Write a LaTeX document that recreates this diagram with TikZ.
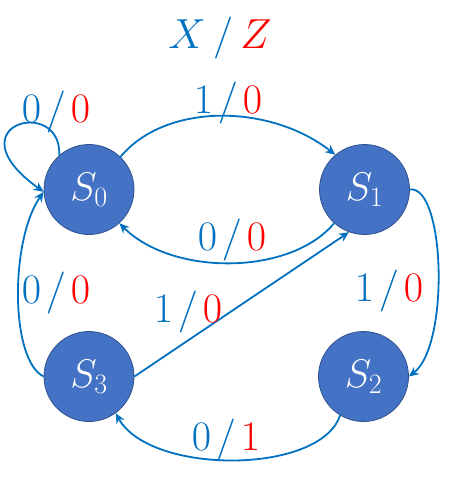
\RequirePackage{fix-cm}
\documentclass[tikz,border=0pt]{standalone}
\usetikzlibrary{arrows.meta}
\definecolor{edgeblue}{HTML}{0070C0}
\definecolor{nodefill}{HTML}{4472C4}
\definecolor{nodeline}{HTML}{2F528F}
\definecolor{outred}{HTML}{FF0000}
\newcommand{\io}[2]{$#1\mkern2mu/\mkern2mu\textcolor{outred}{#2}$}
\tikzset{
  state/.style={circle, fill=nodefill, draw=nodeline, line width=0.8pt, minimum size=90pt, inner sep=0pt, text=white, font=\fontsize{40}{46}\selectfont},
  trans/.style={draw=edgeblue, line width=1.8pt, -{Stealth[length=10pt,width=9pt]}},
  lbl/.style={anchor=base, inner sep=0pt, text=edgeblue, font=\fontsize{42}{50}\selectfont}
}
\begin{document}
\begin{tikzpicture}[x=1pt,y=-1pt]
\useasboundingbox (0,0) rectangle (459,483);
\node[state] (s0) at (89,189.5) {$S_0$};
\node[state] (s1) at (364.5,189.5) {$S_1$};
\node[state] (s3) at (89,376.5) {$S_3$};
\node[state] (s2) at (363.5,376.5) {$S_2$};
% edges
\draw[trans] (s0.131) .. controls (62,95) and (-50,125) .. (s0.183);
\draw[trans] (s0.46) .. controls (165,103) and (269,103) .. (s1.130);
\draw[trans] (s1.228) .. controls (290,276) and (172,276) .. (s0.312);
\draw[trans] (s3.east) -- (s1.250);
\draw[trans] (s1.east) .. controls (445,185) and (450,345) .. (s2.east);
\draw[trans] (s3.west) .. controls (10,360) and (10,240) .. (s0.183);
\draw[trans] (s2.239) .. controls (320,475) and (150,475) .. (s3.306);
% labels
\node[lbl] (title) at (220,48) {$X\mkern3mu/\mkern3mu\textcolor{outred}{Z}$};
\node[lbl] (l01) at (228,113) {\io{1}{0}};
\node[lbl] (l00) at (56,122) {\io{0}{0}};
\node[lbl] (l10) at (232,250) {\io{0}{0}};
\node[lbl] (l30) at (56,303) {\io{0}{0}};
\node[lbl] (l31) at (188,322) {\io{1}{0}};
\node[lbl] (l12) at (389,301) {\io{1}{0}};
\node[lbl] (l23) at (226,450) {\io{0}{1}};
\end{tikzpicture}
\end{document}
